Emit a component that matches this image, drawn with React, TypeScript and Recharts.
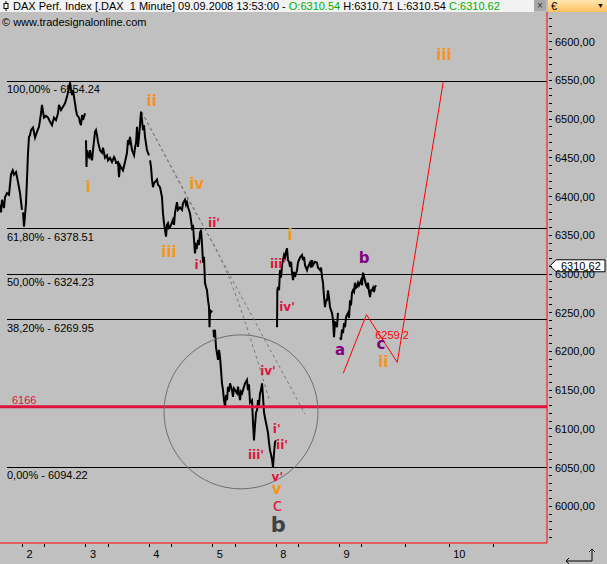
import React from 'react';
import { ComposedChart, Line, XAxis, YAxis, ReferenceLine, ReferenceDot, Scatter } from 'recharts';

type Pt = { t: number; p: number };
type Lbl = { t: number; p: number; text: string };
const mk = (rows: number[][]): Pt[] => rows.map(([t, p]) => ({ t, p }));
const ml = (rows: [number, number, string][]): Lbl[] => rows.map(([t, p, text]) => ({ t, p, text }));

// t = trading hours since 02.09.2008 09:00 (8.5 h per session)
const sep01 = mk([[-3.02,6407],[-2.88,6398],[-2.75,6413],[-2.48,6403],[-2.35,6416],[-2.08,6421],[-1.81,6419],[-1.54,6443],[-1.31,6448],[-1.14,6443],[-0.87,6446],[-0.6,6434],[-0.33,6421],[-0.07,6401]]);
const sep02 = mk([[0.07,6398],[0.2,6381],[0.34,6395],[0.47,6409],[0.6,6437],[0.74,6469],[0.87,6488],[1.01,6490],[1.14,6496],[1.41,6499],[1.68,6487],[1.94,6494],[2.21,6500],[2.48,6516],[2.61,6526],[2.88,6511],[3.15,6513],[3.42,6511],[3.69,6506],[3.95,6502],[4.22,6511],[4.49,6508],[4.76,6516],[4.89,6526],[5.16,6520],[5.43,6524],[5.7,6528],[5.97,6536],[6.1,6541],[6.23,6546],[6.37,6553],[6.5,6544],[6.64,6538],[6.77,6544],[6.9,6536],[7.04,6528],[7.17,6520],[7.31,6514],[7.57,6511],[7.71,6505],[7.84,6502],[7.98,6514],[8.11,6508],[8.38,6516]]);
const sep03 = mk([[8.51,6484],[8.58,6452],[8.65,6472],[8.78,6466],[8.91,6464],[9.05,6472],[9.18,6464],[9.32,6460],[9.45,6472],[9.72,6494],[9.85,6496],[9.99,6490],[10.12,6482],[10.39,6472],[10.66,6469],[10.79,6475],[11.06,6463],[11.33,6466],[11.46,6460],[11.73,6463],[12.0,6458],[12.27,6464],[12.4,6462],[12.53,6457],[12.8,6458],[12.94,6440],[13.07,6454],[13.2,6452],[13.47,6448],[13.74,6458],[14.01,6469],[14.14,6484],[14.28,6481],[14.41,6488],[14.68,6472],[14.95,6466],[15.08,6475],[15.22,6481],[15.35,6500],[15.48,6476],[15.62,6488],[15.75,6502],[15.89,6518],[16.02,6508],[16.15,6496],[16.29,6502],[16.42,6488],[16.69,6472],[16.96,6466]]);
const sep04 = mk([[17.1,6460],[17.23,6452],[17.36,6437],[17.49,6428],[17.63,6433],[17.76,6434],[18.03,6437],[18.16,6431],[18.43,6428],[18.57,6422],[18.7,6416],[18.83,6397],[18.97,6385],[19.1,6377],[19.24,6369],[19.37,6383],[19.5,6385],[19.64,6379],[19.77,6380],[20.04,6386],[20.17,6389],[20.31,6383],[20.44,6397],[20.71,6410],[20.84,6401],[21.11,6404],[21.38,6401],[21.52,6409],[21.78,6413],[21.92,6407],[22.05,6410],[22.19,6404],[22.45,6397],[22.72,6380],[22.86,6383],[22.99,6365],[23.12,6349],[23.26,6359],[23.39,6357],[23.53,6365],[23.66,6359],[23.79,6373],[23.93,6377],[24.06,6361],[24.2,6338],[24.33,6345],[24.46,6314],[24.6,6309],[24.73,6305],[24.87,6293],[25.0,6285],[25.07,6261],[25.14,6281],[25.27,6279],[25.4,6281]]);
const sep05 = mk([[25.6,6258],[25.67,6249],[25.8,6258],[25.94,6237],[26.07,6230],[26.21,6222],[26.34,6234],[26.48,6225],[26.61,6210],[26.74,6194],[26.88,6186],[27.01,6174],[27.15,6166],[27.28,6180],[27.41,6174],[27.55,6190],[27.68,6184],[27.82,6194],[28.08,6186],[28.22,6178],[28.35,6188],[28.49,6186],[28.76,6182],[28.89,6190],[29.16,6174],[29.29,6184],[29.43,6182],[29.56,6186],[29.83,6194],[30.09,6198],[30.23,6186],[30.36,6193],[30.5,6171],[30.77,6174],[30.9,6147],[31.03,6126],[31.17,6144],[31.3,6159],[31.44,6162],[31.57,6174],[31.7,6168],[31.84,6182],[31.97,6186],[32.11,6194],[32.24,6178],[32.38,6159],[32.51,6153],[32.64,6147],[32.78,6141],[32.91,6135],[33.05,6123],[33.18,6114],[33.32,6109],[33.45,6103],[33.58,6094],[33.72,6111],[33.85,6124],[33.99,6126]]);
const sep08 = mk([[34.12,6261],[34.16,6305],[34.25,6309],[34.39,6305],[34.52,6329],[34.65,6320],[34.79,6335],[34.92,6341],[35.06,6347],[35.19,6344],[35.32,6351],[35.46,6355],[35.59,6341],[35.73,6339],[35.86,6333],[36.0,6339],[36.13,6326],[36.26,6317],[36.4,6327],[36.53,6321],[36.8,6329],[36.93,6338],[37.2,6344],[37.47,6347],[37.6,6341],[37.74,6345],[37.87,6335],[38.14,6329],[38.27,6333],[38.54,6338],[38.67,6332],[38.81,6341],[38.94,6335],[39.21,6339],[39.48,6338],[39.61,6332],[39.88,6329],[40.02,6332],[40.15,6321],[40.28,6314],[40.42,6297],[40.55,6285],[40.69,6293],[40.82,6293],[40.95,6305],[41.09,6296],[41.22,6285],[41.36,6281],[41.49,6278],[41.62,6270],[41.76,6249],[41.89,6267],[42.03,6266],[42.16,6261],[42.29,6278]]);
const sep09 = mk([[42.56,6249],[42.7,6246],[42.83,6258],[42.97,6254],[43.1,6266],[43.24,6261],[43.37,6273],[43.64,6278],[43.77,6272],[43.91,6293],[44.04,6287],[44.17,6302],[44.31,6305],[44.44,6303],[44.57,6314],[44.71,6308],[44.84,6309],[44.98,6314],[45.11,6311],[45.38,6317],[45.51,6311],[45.65,6326],[45.78,6321],[45.91,6317],[46.05,6311],[46.18,6309],[46.32,6314],[46.45,6303],[46.59,6297],[46.72,6305],[46.85,6305],[46.99,6308],[47.12,6303],[47.26,6309],[47.39,6311]]);
const sessions = [sep01, sep02, sep03, sep04, sep05, sep08, sep09];

const trendA = mk([[15.98,6517.6],[37.87,6157.4]]);
const trendB = mk([[15.98,6517.6],[22.19,6413.9],[27.55,6323.2],[33.18,6171.7]]);
const projection = mk([[43.0,6206],[46.11,6276],[50.24,6219],[56.41,6554]]);

const fibLevels = [6554.24, 6378.51, 6324.23, 6269.95, 6094.22];
const fibPct = ['100,00%', '61,80%', '50,00%', '38,20%', '0,00%'];
const supportLevel = 6166;
const lastPrice = 6310.62;
const circleCenter = { t: 29.29, p: 6160 };

const orangeLabels = ml([[17.32,6530.7,'ii'],[8.82,6428.5,'i'],[23.35,6431.7,'iv'],[19.64,6351,'iii'],[35.86,6370.9,'i'],[34.08,6067.5,'v'],[48.37,6219.8,'ii'],[56.5,6585.6,'iii']]);
const redLabels = ml([[25.67,6385.2,"ii'"],[23.59,6335.1,"i'"],[34.25,6336.3,"iii'"],[35.46,6284.7,"iv'"],[32.91,6209.3,"iv'"],[34.08,6139.2,"i'"],[34.79,6119.9,"ii'"],[31.3,6108.5,"iii'"],[34.16,6082.6,"v'"]]);
const redBigLabels = ml([[34.16,6049.5,'c']]);
const purpleLabels = ml([[45.78,6343.1,'b'],[42.56,6233.8,'a'],[48.06,6240.9,'c']]);
const grayLabels = ml([[34.29,6025,'b']]);
const targetLabels = ml([[49.53,6251.7,'6259.2']]);

const xTickValues = [0, 3, 8.5, 11.5, 17, 20, 25.5, 28.5, 34, 37, 42.5, 45.5, 51.31, 57.19, 63.1];
const xTickLabels = ['2', '', '3', '', '4', '', '5', '', '8', '', '9', '', '', '10', ''];
const yTickValues: number[] = [];
for (let v = 5960; v <= 6630; v += 10) yTickValues.push(v);

const FONT = '"Liberation Sans", Arial, sans-serif';
const WFONT = '"DejaVu Sans", Verdana, sans-serif';

const textShape = (color: string, size: number, weight: string | number, font = WFONT) => (props: any) => (
  <text x={props.cx} y={props.cy} fill={color} fontSize={size} fontWeight={weight} fontFamily={font}
    textAnchor="middle" dominantBaseline="central">{props.payload.text}</text>
);

const XTick = (props: any) => {
  const { x, y, payload } = props;
  const i = xTickValues.indexOf(payload.value);
  const label = i >= 0 ? xTickLabels[i] : '';
  return (
    <g>
      <line x1={x} x2={x} y1={y + 1} y2={y + 4} stroke="#000" shapeRendering="crispEdges" />
      {label ? <text x={x + 4} y={y + 15} fontSize={11} fontFamily={FONT} fill="#000">{label}</text> : null}
    </g>
  );
};

const YTick = (props: any) => {
  const { x, y, payload } = props;
  const v = payload.value as number;
  const major = Math.round(v) % 50 === 0;
  return (
    <g>
      <line x1={x + 2} x2={x + 5} y1={y} y2={y} stroke="#000" shapeRendering="crispEdges" />
      {major ? <text x={x + 8} y={y} dominantBaseline="central" fontSize={11} fontFamily={FONT} fill="#000">{v.toFixed(2).replace('.', ',')}</text> : null}
    </g>
  );
};

export default function App() {
  return (
    <div style={{ position: 'absolute', left: 0, top: 0, width: 607, height: 564, background: '#C0C0C0', overflow: 'hidden' }}>
      <ComposedChart width={607} height={564} margin={{ top: 12, right: 0, bottom: 0, left: 0 }}>
        <XAxis dataKey="t" type="number" domain={[-3.016, 70.31]} allowDataOverflow ticks={xTickValues} interval={0}
          tick={<XTick />} tickLine={false} tickSize={0} tickMargin={0} height={21} axisLine={{ stroke: '#FF0000' }} />
        <YAxis yAxisId="price" dataKey="p" type="number" hide domain={[6003.6, 6636.9]} allowDataOverflow />
        <YAxis yAxisId="axis" orientation="right" type="number" width={60} domain={[5952.7, 6638.3]} allowDataOverflow
          ticks={yTickValues} interval={0} tick={<YTick />} tickLine={false} tickSize={0} tickMargin={0}
          axisLine={{ stroke: '#FF0000' }} />

        <ReferenceDot yAxisId="price" x={circleCenter.t} y={circleCenter.p} r={77} fill="none" stroke="#6E6E6E" strokeWidth={1} />

        {fibLevels.map((lv, i) => (
          <ReferenceLine key={lv} yAxisId="price" segment={[{ x: -2.08, y: lv }, { x: 70.31, y: lv }]} stroke="#000" strokeWidth={1}
            shapeRendering="crispEdges"
            label={{ content: (lp: any) => (
              <text x={lp.viewBox.x} y={lp.viewBox.y + 12} fontSize={11} fontFamily={FONT} fill="#000">{`${fibPct[i]} - ${lv.toFixed(2)}`}</text>
            ) }} />
        ))}

        <Line data={trendA} yAxisId="price" dataKey="p" type="linear" stroke="#777" strokeWidth={1} strokeDasharray="3 3" dot={false} isAnimationActive={false} />
        <Line data={trendB} yAxisId="price" dataKey="p" type="monotone" stroke="#777" strokeWidth={1} strokeDasharray="3 3" dot={false} isAnimationActive={false} />

        {sessions.map((s, i) => (
          <Line key={i} data={s} yAxisId="price" dataKey="p" type="linear" stroke="#000" strokeWidth={2} strokeLinejoin="miter" dot={false} isAnimationActive={false} />
        ))}

        <ReferenceLine yAxisId="price" y={supportLevel} stroke="#DC143C" strokeWidth={3}
          label={{ content: (lp: any) => (
            <text x={12} y={lp.viewBox.y - 3} fontSize={11} fontFamily={FONT} fill="#DC143C">{String(supportLevel)}</text>
          ) }} />

        <Line data={projection} yAxisId="price" dataKey="p" type="linear" stroke="#FF0000" strokeWidth={1} dot={false} isAnimationActive={false} />

        <Scatter data={orangeLabels} yAxisId="price" isAnimationActive={false} shape={textShape('#F7941D', 15, 'bold')} />
        <Scatter data={redLabels} yAxisId="price" isAnimationActive={false} shape={textShape('#DC143C', 12, 'bold')} />
        <Scatter data={redBigLabels} yAxisId="price" isAnimationActive={false} shape={textShape('#DC143C', 17, 'normal')} />
        <Scatter data={purpleLabels} yAxisId="price" isAnimationActive={false} shape={textShape('#800080', 15, 'bold')} />
        <Scatter data={grayLabels} yAxisId="price" isAnimationActive={false} shape={textShape('#404040', 21, 'bold')} />
        <Scatter data={targetLabels} yAxisId="price" isAnimationActive={false} shape={textShape('#FF0000', 11, 'normal', FONT)} />

        <ReferenceLine yAxisId="axis" y={lastPrice} stroke="none"
          label={{ content: (lp: any) => {
            const rx = lp.viewBox.x + lp.viewBox.width;
            const y = lp.viewBox.y;
            return (
              <g>
                <polygon points={`${rx + 3},${y} ${rx + 9},${y - 6} ${rx + 58},${y - 6} ${rx + 58},${y + 6} ${rx + 9},${y + 6}`} fill="#FFF" stroke="#000" strokeWidth={1} />
                <text x={rx + 14} y={y} dominantBaseline="central" fontSize={11} fontFamily={FONT} fill="#000">{lastPrice.toFixed(2).replace('.', ',')}</text>
              </g>
            );
          } }} />
      </ComposedChart>

      <div style={{ position: 'absolute', left: 0, top: 0, width: 534, height: 12, background: '#F2F2F2', fontFamily: FONT, fontSize: 11, lineHeight: '12px', whiteSpace: 'pre', color: '#000' }}>
        <svg width={10} height={12} style={{ position: 'absolute', left: 1, top: 0 }}>
          <line x1={5} x2={5} y1={1} y2={11} stroke="#000" />
          <rect x={3} y={3.5} width={4} height={5} fill="#FFF" stroke="#000" />
        </svg>
        <span style={{ position: 'absolute', left: 13, top: 0 }}>
          {'DAX Perf. Index [.DAX  1 Minute] 09.09.2008 13:53:00 - '}
          <span style={{ color: '#00B000' }}>O:6310.54</span>
          {' H:6310.71 L:6310.54 '}
          <span style={{ color: '#00B000' }}>C:6310.62</span>
        </span>
      </div>
      <div style={{ position: 'absolute', left: 534, top: 0, width: 12, height: 11, background: '#A8A8A8', fontFamily: FONT, fontSize: 10, lineHeight: '11px', textAlign: 'center', color: '#333' }}>×</div>
      <div style={{ position: 'absolute', left: 548, top: 0, width: 59, height: 12, background: 'linear-gradient(#FFE6B0, #FFC060)', fontFamily: FONT, fontSize: 11, lineHeight: '12px' }}>
        <span style={{ position: 'absolute', left: 3, top: 0 }}>€</span>
        <span style={{ position: 'absolute', left: 49, top: 0, fontSize: 7 }}>▼</span>
      </div>
      <div style={{ position: 'absolute', left: 2, top: 16, fontFamily: FONT, fontSize: 11, lineHeight: '13px', color: '#000' }}>© www.tradesignalonline.com</div>
      <svg width={40} height={18} style={{ position: 'absolute', left: 560, top: 546 }}>
        <polyline points="6,15 32,15 32,3" fill="none" stroke="#000" />
        <polyline points="29,6 32,3 35,6" fill="none" stroke="#000" />
        <polyline points="9,12 6,15 9,18" fill="none" stroke="#000" />
      </svg>
    </div>
  );
}
